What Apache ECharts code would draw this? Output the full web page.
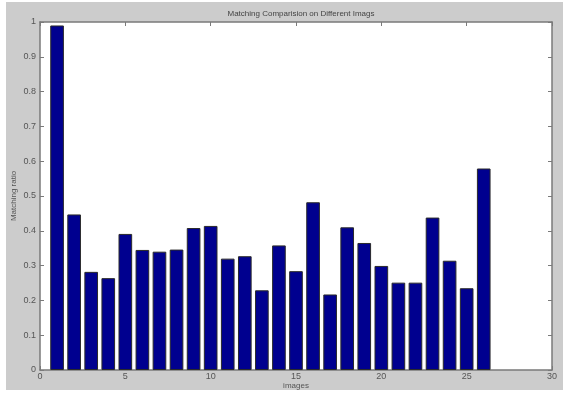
<!DOCTYPE html>
<html>
<head>
<meta charset="utf-8">
<script src="https://cdn.jsdelivr.net/npm/echarts@6/dist/echarts.min.js"></script>
<style>
  html, body { margin: 0; padding: 0; background: #ffffff; }
  #chart { width: 563px; height: 393px; }
</style>
</head>
<body>
<div id="chart"></div>
<script>
// Image indices and the matching ratio measured for each one
const imageIndex = [1, 2, 3, 4, 5, 6, 7, 8, 9, 10, 11, 12, 13, 14, 15, 16, 17, 18, 19, 20, 21, 22, 23, 24, 25, 26];
const matchingRatio = [0.99, 0.447, 0.282, 0.264, 0.391, 0.345, 0.340, 0.346, 0.408, 0.414, 0.320, 0.327, 0.229, 0.358, 0.284, 0.482, 0.217, 0.410, 0.365, 0.299, 0.251, 0.251, 0.438, 0.314, 0.235, 0.579];
const xTicks = [0, 5, 10, 15, 20, 25, 30];
const yTicks = [0, 0.1, 0.2, 0.3, 0.4, 0.5, 0.6, 0.7, 0.8, 0.9, 1];

const chart = echarts.init(document.getElementById('chart'), null, { renderer: 'canvas' });

const gridLeft = 40, gridRight = 11, gridTop = 22, gridBottom = 23;
const plotWidth = 563 - gridLeft - gridRight;
const barWidthPx = plotWidth / (xTicks[xTicks.length - 1] - xTicks[0]) * 0.8;

const frameColor = '#7a7a7a';
const fontFamily = 'Liberation Sans, Arial, sans-serif';
const labelStyle = { color: '#555555', fontSize: 9, fontFamily: fontFamily };

function xAxisCfg(pos, showLabels) {
  return {
    type: 'value', position: pos, min: xTicks[0], max: xTicks[xTicks.length - 1], interval: 5,
    axisLine: { show: true, onZero: false, lineStyle: { color: frameColor, width: 1.5 } },
    axisTick: { show: true, inside: true, length: 4, lineStyle: { color: frameColor } },
    axisLabel: Object.assign({ show: showLabels, margin: 2 }, labelStyle),
    splitLine: { show: false }
  };
}
function yAxisCfg(pos, showLabels) {
  return {
    type: 'value', position: pos, min: yTicks[0], max: yTicks[yTicks.length - 1], interval: 0.1,
    axisLine: { show: true, onZero: false, lineStyle: { color: frameColor, width: 1.5 } },
    axisTick: { show: true, inside: true, length: 4, lineStyle: { color: frameColor } },
    axisLabel: Object.assign({ show: showLabels, margin: 4,
      formatter: v => (Math.round(v * 10) / 10).toString() }, labelStyle),
    splitLine: { show: false }
  };
}

const xBottom = xAxisCfg('bottom', true);
xBottom.name = 'images';
xBottom.nameLocation = 'middle';
xBottom.nameGap = 12;
xBottom.nameMoveOverlap = false;
xBottom.nameTextStyle = { color: '#555555', fontSize: 8, fontFamily: fontFamily };

const yLeft = yAxisCfg('left', true);
yLeft.name = 'Matching ratio';
yLeft.nameLocation = 'middle';
yLeft.nameGap = 22;
yLeft.nameMoveOverlap = false;
yLeft.nameTextStyle = { color: '#555555', fontSize: 8, fontFamily: fontFamily };

chart.setOption({
  backgroundColor: '#ffffff',
  animation: false,
  graphic: [
    { type: 'rect', z: -10, silent: true, shape: { x: 6, y: 2, width: 557, height: 388 }, style: { fill: '#cccccc' } },
    { type: 'rect', z: -5, silent: true, shape: { x: gridLeft, y: gridTop, width: plotWidth, height: 393 - gridTop - gridBottom }, style: { fill: '#ffffff' } }
  ],
  title: {
    text: 'Matching Comparision on Different Imags',
    left: gridLeft + plotWidth / 2, top: 5, textAlign: 'center',
    textStyle: { color: '#444444', fontSize: 8, fontWeight: 'normal', fontFamily: fontFamily }
  },
  grid: { left: gridLeft, right: gridRight, top: gridTop, bottom: gridBottom, containLabel: false, outerBoundsMode: 'none' },
  xAxis: [xBottom, xAxisCfg('top', false)],
  yAxis: [yLeft, yAxisCfg('right', false)],
  series: [{
    type: 'bar',
    xAxisIndex: 0, yAxisIndex: 0,
    barWidth: barWidthPx,
    data: imageIndex.map((x, i) => [x, matchingRatio[i]]),
    itemStyle: { color: '#00008f', borderColor: '#2a2a2a', borderWidth: 1 }
  }]
});
</script>
</body>
</html>
